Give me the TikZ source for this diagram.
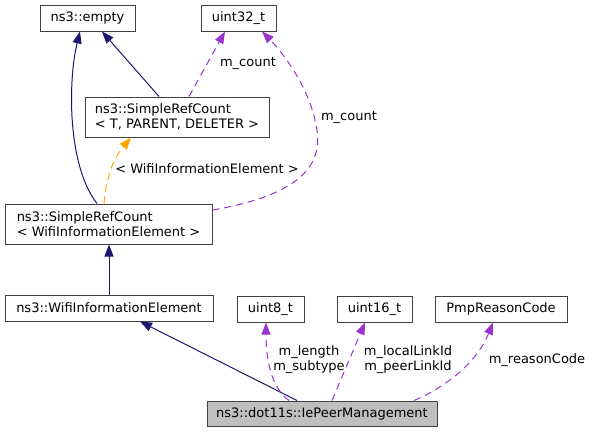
\documentclass[tikz,border=0pt]{standalone}
\usepackage{fontspec}
\setmainfont{DejaVu Sans}
\usetikzlibrary{arrows.meta}
\definecolor{edgeblue}{HTML}{191970}
\definecolor{edgepurple}{HTML}{9A32CD}
\definecolor{edgeorange}{HTML}{FFA500}
\definecolor{boxline}{HTML}{404040}
\definecolor{boxfill}{HTML}{BFBFBF}
\begin{document}
\begin{tikzpicture}[x=1pt,y=-1pt, font=\fontsize{13}{15}\selectfont,
 cls/.style={draw=boxline, line width=1pt, fill=white, inner sep=0pt, minimum height=26pt, align=left},
 inh/.style={draw=edgeblue, line width=1pt, -{Triangle[length=12pt,width=9pt,fill=edgeblue]}},
 usage/.style={draw=edgepurple, line width=1pt, dash pattern=on 7pt off 5pt, -{Triangle[length=12pt,width=9pt,fill=edgepurple]}},
 tmpl/.style={draw=edgeorange, line width=1pt, dash pattern=on 7pt off 5pt, -{Triangle[length=12pt,width=9pt,fill=edgeorange]}},
 elabel/.style={inner sep=0pt, align=center}]
\useasboundingbox (0,0) rectangle (592,432);
\node[cls, minimum width=95pt] (empty) at (87.5,18) {ns3::empty};
\node[cls, minimum width=75pt] (u32) at (238.5,18) {uint32\_t};
\node[cls, minimum width=184pt, minimum height=40pt] (srcT) at (177,117) {ns3::SimpleRefCount\\< T, PARENT, DELETER >};
\node[cls, minimum width=207pt, minimum height=40pt] (srcW) at (108.5,224) {ns3::SimpleRefCount\\< WifiInformationElement >};
\node[cls, minimum width=208pt] (wie) at (109,308) {ns3::WifiInformationElement};
\node[cls, minimum width=67pt] (u8) at (270.5,309) {uint8\_t};
\node[cls, minimum width=75pt] (u16) at (374.5,309) {uint16\_t};
\node[cls, minimum width=132pt] (pmp) at (501,309) {PmpReasonCode};
\node[cls, minimum width=230pt, minimum height=25pt, fill=boxfill] (iep) at (322,413.5) {ns3::dot11s::IePeerManagement};

\draw[inh] ([xshift=-11.5pt]srcW.north) .. controls (67,165) and (68,80) .. ([xshift=-7.5pt]empty.south);
\draw[inh] ([xshift=-18pt]srcT.north) -- ([xshift=14.5pt]empty.south);
\draw[usage] ([xshift=12pt]srcT.north) -- ([xshift=-13.5pt]u32.south);
\node[elabel] (lc1) at (248,63) {m\_count};
\draw[usage] ([yshift=14pt]srcW.east) .. controls (300,195) and (325,165) .. (316,125) .. controls (310,90) and (285,55) .. ([xshift=23.5pt]u32.south);
\node[elabel] (lc2) at (349,117) {m\_count};
\draw[tmpl] ([xshift=-4.5pt]srcW.north) .. controls (106,180) and (112,160) .. ([xshift=-46pt]srcT.south);
\node[elabel] (lt) at (207,169) {< WifiInformationElement >};
\draw[inh] (wie.north) -- (wie.north |- srcW.south);
\draw[inh] ([xshift=-25pt]iep.north) -- ([xshift=31pt]wie.south);
\draw[usage] ([xshift=-33pt]iep.north) .. controls (272,388) and (266,362) .. ([xshift=-4.5pt]u8.south);
\node[elabel] (ll1) at (309,360) {m\_length\\m\_subtype};
\draw[usage] ([xshift=10pt]iep.north) -- ([xshift=-9.5pt]u16.south);
\node[elabel] (ll2) at (408,360) {m\_localLinkId\\m\_peerLinkId};
\draw[usage] ([xshift=92pt]iep.north) .. controls (450,385) and (478,360) .. ([xshift=-8pt]pmp.south);
\node[elabel] (ll3) at (537,360) {m\_reasonCode};
\end{tikzpicture}
\end{document}
